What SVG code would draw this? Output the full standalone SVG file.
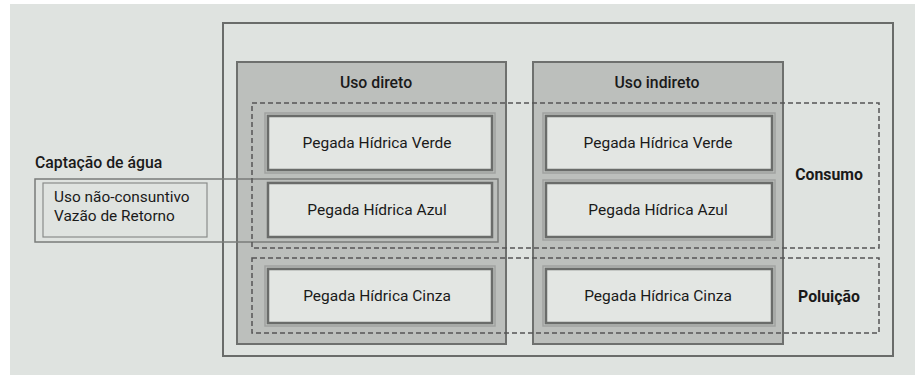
<svg xmlns="http://www.w3.org/2000/svg" width="922" height="376" viewBox="0 0 922 376">
<style>
.bg{fill:#dfe3e0}
.outer{fill:none;stroke:#6a6c6a;stroke-width:2}
.col{fill:#bcbfbc;stroke:#6e706e;stroke-width:2}
.dash{fill:none;stroke:#555;stroke-width:1.5;stroke-dasharray:5 3}
.box{fill:#e3e6e3;stroke:#6a6c6a;stroke-width:2.5}
.box2{fill:none;stroke:#a0a3a0;stroke-width:1.5}
.cap{fill:none;stroke:#7a7c7a;stroke-width:1.5}
.capin{fill:none;stroke:#8a8c8a;stroke-width:1.2}
text{font-family:Roboto,"Liberation Sans",sans-serif;fill:#1a1a1a}
.t{font-size:15.5px;text-anchor:middle}
.h{font-size:15.8px;font-weight:500;text-anchor:middle}
.b{font-size:15.8px;font-weight:700;text-anchor:middle}
.l{font-size:15.4px}
</style>
<rect x="0" y="0" width="922" height="376" fill="#ffffff"/>
<rect class="bg" x="10" y="4" width="905" height="371"/>
<g id="frame">
<rect class="outer" x="223" y="23" width="670" height="333"/>
</g>
<g id="uso-direto">
<rect class="col" x="237" y="62" width="269" height="282"/>
<text class="h" x="376" y="88">Uso direto</text>
</g>
<g id="uso-indireto">
<rect class="col" x="533" y="62" width="250" height="282"/>
<text class="h" x="657" y="88">Uso indireto</text>
</g>
<g id="captacao">
<rect class="cap" x="35" y="179" width="463" height="63"/>
<rect class="capin" x="43" y="183" width="164" height="54"/>
<text class="h" x="35" y="168" style="text-anchor:start">Captação de água</text>
<text class="l" x="54" y="202">Uso não-consuntivo</text>
<text class="l" x="54" y="220.5">Vazão de Retorno</text>
</g>
<g id="consumo">
<rect class="dash" x="252" y="103" width="627" height="145"/>
<text class="b" x="829" y="180">Consumo</text>
</g>
<g id="poluicao">
<rect class="dash" x="252" y="258" width="627" height="75"/>
<text class="b" x="829" y="302">Poluição</text>
</g>
<g id="direto-verde">
<rect class="box2" x="265" y="113" width="230" height="60"/>
<rect class="box" x="268" y="116" width="224" height="54"/>
<text class="t" x="377" y="148">Pegada Hídrica Verde</text>
</g>
<g id="direto-azul">
<rect class="box" x="268" y="183" width="224" height="54"/>
<text class="t" x="377" y="215">Pegada Hídrica Azul</text>
</g>
<g id="direto-cinza">
<rect class="box2" x="265" y="266" width="230" height="60"/>
<rect class="box" x="268" y="269" width="224" height="54"/>
<text class="t" x="377" y="301">Pegada Hídrica Cinza</text>
</g>
<g id="indireto-verde">
<rect class="box2" x="543" y="113" width="232" height="60"/>
<rect class="box" x="546" y="116" width="226" height="54"/>
<text class="t" x="658" y="148">Pegada Hídrica Verde</text>
</g>
<g id="indireto-azul">
<rect class="box2" x="543" y="180" width="232" height="60"/>
<rect class="box" x="546" y="183" width="226" height="54"/>
<text class="t" x="658" y="215">Pegada Hídrica Azul</text>
</g>
<g id="indireto-cinza">
<rect class="box2" x="543" y="266" width="232" height="60"/>
<rect class="box" x="546" y="269" width="226" height="54"/>
<text class="t" x="658" y="301">Pegada Hídrica Cinza</text>
</g>
<g id="connectors"></g>
</svg>
